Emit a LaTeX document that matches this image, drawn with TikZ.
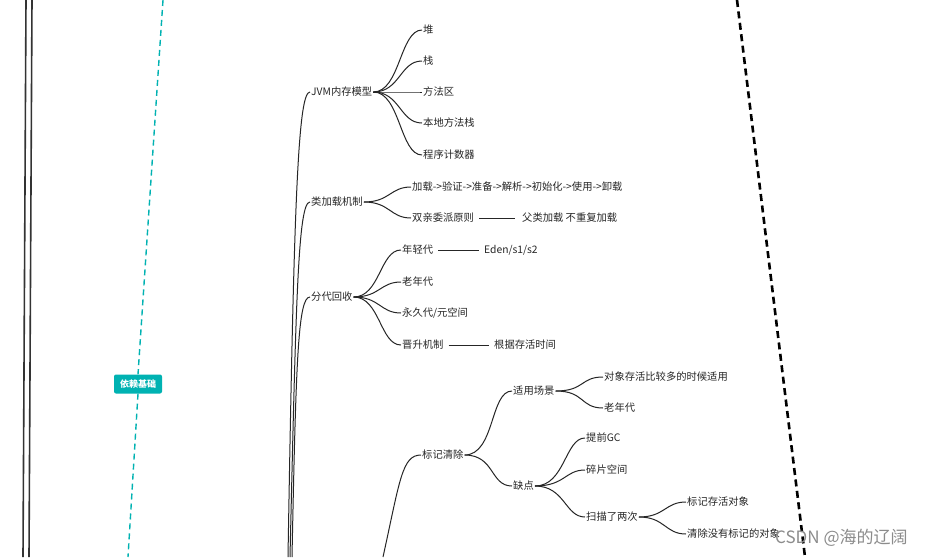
\documentclass[tikz,border=0pt]{standalone}
\usepackage{fontspec}
\setmainfont{Noto Sans CJK SC}
\begin{document}
\begin{tikzpicture}[x=1pt,y=-1pt,
  t/.style={anchor=west,inner sep=1pt,font=\fontsize{10.3}{12}\selectfont,text=black!85},
  ln/.style={draw=black!85,line width=1pt},
  br/.style={ln},
]
\useasboundingbox[fill=white] (0,0) rectangle (939,557);
% left double lines
\draw[line width=1.6pt,black!80] (26,0) -- (23,557);
\draw[line width=1.6pt,black!80] (32,0) -- (29,557);
% teal dashed
\coordinate (ta) at (163,0); \coordinate (tb) at (128,557);
\node[fill=teal!60!cyan,rounded corners=2pt,text=white,font=\fontsize{9}{10}\selectfont\bfseries,minimum width=48pt,minimum height=19pt,inner sep=1pt] (dep) at (138,384) {依赖基础};
\draw[dashed,teal!60!cyan,line width=1.4pt,dash pattern=on 6pt off 4pt] (ta) -- (dep.north);
\draw[dashed,teal!60!cyan,line width=1.4pt,dash pattern=on 6pt off 4pt] (dep.south) -- (tb);
% black dashed
\coordinate (ba) at (737,0); \coordinate (bb) at (805,557);
\draw[line width=2.6pt,dash pattern=on 7pt off 4.5pt] (ba) -- (bb);

% level 1
\node[t] (jvm) at (310,92) {JVM内存模型};
\node[t] (cl) at (310,202) {类加载机制};
\node[t] (gc) at (310,297) {分代回收};
\node[t] (mc) at (421,455) {标记清除};
\coordinate (r1) at (288,557);
\coordinate (r2) at (290,557);
\coordinate (r3) at (292,557);
\coordinate (r4) at (383,557);
\draw[br] (r1) .. controls (294,200) and (298,92) .. (jvm.west);
\draw[br] (r2) .. controls (296,300) and (298,202) .. (cl.west);
\draw[br] (r3) .. controls (296,360) and (298,297) .. (gc.west);
\draw[br] (r4) .. controls (400,480) and (402,455) .. (mc.west);

% JVM children
\foreach \n/\y/\s in {a/30/堆,b/61/栈,c/92/方法区,d/123/本地方法栈,e/155/程序计数器}{
  \node[t] (j\n) at (422,\y) {\s};
  \draw[br] (jvm.east) .. controls (400,92) and (400,\y) .. (j\n.west);
}
% class loading
\node[t] (c1) at (411,187) {加载->验证->准备->解析->初始化->使用->卸载};
\node[t] (c2) at (411,218) {双亲委派原则};
\draw[br] (cl.east) .. controls (390,202) and (390,187) .. (c1.west);
\draw[br] (cl.east) .. controls (390,202) and (390,218) .. (c2.west);
\node[t] (c3) at (521,218) {父类加载 不重复加载};
\draw[br] ([xshift=4pt]c2.east) -- ([xshift=-6pt]c3.west);
% generational
\node[t] (g1) at (401,250) {年轻代};
\node[t] (g2) at (401,282) {老年代};
\node[t] (g3) at (401,313) {永久代/元空间};
\node[t] (g4) at (401,345) {晋升机制};
\foreach \g/\y in {g1/250,g2/282,g3/313,g4/345}
  \draw[br] (gc.east) .. controls (380,297) and (380,\y) .. (\g.west);
\node[t] (g1a) at (483,250) {Eden/s1/s2};
\node[t] (g4a) at (493,345) {根据存活时间};
\draw[br] ([xshift=4pt]g1.east) -- ([xshift=-4pt]g1a.west);
\draw[br] ([xshift=4pt]g4.east) -- ([xshift=-4pt]g4a.west);
% mark sweep
\node[t] (m1) at (512,391) {适用场景};
\node[t] (m2) at (512,486) {缺点};
\draw[br] (mc.east) .. controls (495,455) and (490,391) .. (m1.west);
\draw[br] (mc.east) .. controls (495,455) and (490,486) .. (m2.west);
\node[t] (m11) at (603,377) {对象存活比较多的时候适用};
\node[t] (m12) at (603,408) {老年代};
\draw[br] (m1.east) .. controls (585,391) and (580,377) .. (m11.west);
\draw[br] (m1.east) .. controls (585,391) and (580,408) .. (m12.west);
\node[t] (m21) at (585,438) {提前GC};
\node[t] (m22) at (585,470) {碎片空间};
\node[t] (m23) at (585,517) {扫描了两次};
\foreach \m/\y in {m21/438,m22/470,m23/517}
  \draw[br] (m2.east) .. controls (565,486) and (565,\y) .. (\m.west);
\node[t] (m231) at (686,502) {标记存活对象};
\node[t] (m232) at (686,534) {清除没有标记的对象};
\draw[br] (m23.east) .. controls (665,517) and (665,502) .. (m231.west);
\draw[br] (m23.east) .. controls (665,517) and (665,534) .. (m232.west);
% watermark
\node[anchor=west,text=black!45,font=\fontsize{17}{19}\selectfont,inner sep=0pt] (wm) at (775,538) {CSDN @海的辽阔};
\end{tikzpicture}
\end{document}
